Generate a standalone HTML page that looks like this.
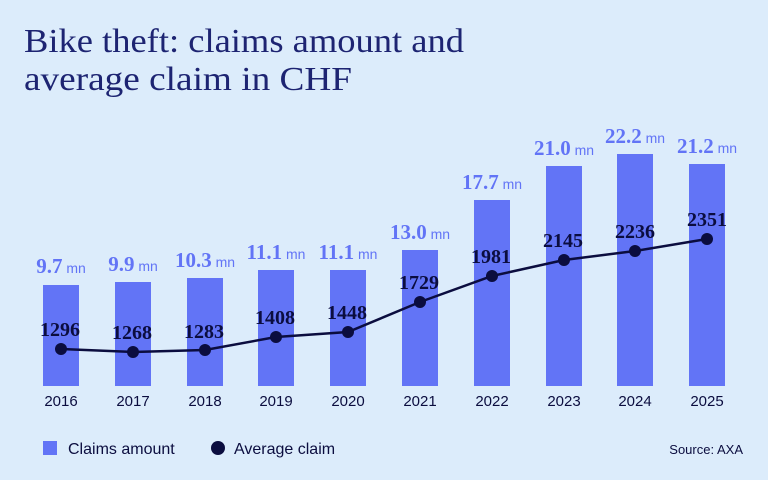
<!DOCTYPE html>
<html><head><style>
body{margin:0;background:#dcecfb;}
svg{display:block}
</style></head><body>
<svg width="768" height="480" xmlns="http://www.w3.org/2000/svg">
<rect width="768" height="480" fill="#dcecfb"/>
<text x="24" y="52" font-family="Liberation Serif,serif" font-size="34" fill="#1d2472" textLength="440" lengthAdjust="spacingAndGlyphs">Bike theft: claims amount and</text>
<text x="24" y="90" font-family="Liberation Serif,serif" font-size="34" fill="#1d2472" textLength="328" lengthAdjust="spacingAndGlyphs">average claim in CHF</text>
<g fill="#6274f6">
<rect x="43" y="285" width="36" height="101"/>
<rect x="115" y="282" width="36" height="104"/>
<rect x="187" y="278" width="36" height="108"/>
<rect x="258" y="270" width="36" height="116"/>
<rect x="330" y="270" width="36" height="116"/>
<rect x="402" y="250" width="36" height="136"/>
<rect x="474" y="200" width="36" height="186"/>
<rect x="546" y="166" width="36" height="220"/>
<rect x="617" y="154" width="36" height="232"/>
<rect x="689" y="164" width="36" height="222"/>
</g>
<g font-family="Liberation Serif,serif" font-weight="bold" font-size="21" fill="#6274f6" text-anchor="middle">
<text x="61" y="273">9.7<tspan font-family="Liberation Sans,sans-serif" font-weight="normal" font-size="14"> mn</tspan></text>
<text x="133" y="271">9.9<tspan font-family="Liberation Sans,sans-serif" font-weight="normal" font-size="14"> mn</tspan></text>
<text x="205" y="267">10.3<tspan font-family="Liberation Sans,sans-serif" font-weight="normal" font-size="14"> mn</tspan></text>
<text x="276" y="259">11.1<tspan font-family="Liberation Sans,sans-serif" font-weight="normal" font-size="14"> mn</tspan></text>
<text x="348" y="259">11.1<tspan font-family="Liberation Sans,sans-serif" font-weight="normal" font-size="14"> mn</tspan></text>
<text x="420" y="239">13.0<tspan font-family="Liberation Sans,sans-serif" font-weight="normal" font-size="14"> mn</tspan></text>
<text x="492" y="189">17.7<tspan font-family="Liberation Sans,sans-serif" font-weight="normal" font-size="14"> mn</tspan></text>
<text x="564" y="155">21.0<tspan font-family="Liberation Sans,sans-serif" font-weight="normal" font-size="14"> mn</tspan></text>
<text x="635" y="143">22.2<tspan font-family="Liberation Sans,sans-serif" font-weight="normal" font-size="14"> mn</tspan></text>
<text x="707" y="153">21.2<tspan font-family="Liberation Sans,sans-serif" font-weight="normal" font-size="14"> mn</tspan></text>
</g>
<polyline fill="none" stroke="#0b0d3f" stroke-width="2.5" points="61,349 133,352 205,350 276,337 348,332 420,302 492,276 564,260 635,251 707,239"/>
<g fill="#0b0d3f">
<circle cx="61" cy="349" r="6"/><circle cx="133" cy="352" r="6"/><circle cx="205" cy="350" r="6"/><circle cx="276" cy="337" r="6"/><circle cx="348" cy="332" r="6"/><circle cx="420" cy="302" r="6"/><circle cx="492" cy="276" r="6"/><circle cx="564" cy="260" r="6"/><circle cx="635" cy="251" r="6"/><circle cx="707" cy="239" r="6"/>
</g>
<g font-family="Liberation Serif,serif" font-weight="bold" font-size="20" fill="#0b0d3f" text-anchor="middle">
<text x="60" y="336">1296</text><text x="132" y="339">1268</text><text x="204" y="338">1283</text><text x="275" y="324">1408</text><text x="347" y="319">1448</text><text x="419" y="289">1729</text><text x="491" y="263">1981</text><text x="563" y="247">2145</text><text x="635" y="238">2236</text><text x="707" y="226">2351</text>
</g>
<g font-family="Liberation Sans,sans-serif" font-size="15" fill="#0b0d3f" text-anchor="middle">
<text x="61" y="406">2016</text><text x="133" y="406">2017</text><text x="205" y="406">2018</text><text x="276" y="406">2019</text><text x="348" y="406">2020</text><text x="420" y="406">2021</text><text x="492" y="406">2022</text><text x="564" y="406">2023</text><text x="635" y="406">2024</text><text x="707" y="406">2025</text>
</g>
<rect x="43" y="441" width="14" height="14" fill="#6274f6"/>
<text x="68" y="454" font-family="Liberation Sans,sans-serif" font-size="16" fill="#0b0d3f">Claims amount</text>
<circle cx="218" cy="448" r="7" fill="#0b0d3f"/>
<text x="234" y="454" font-family="Liberation Sans,sans-serif" font-size="16" fill="#0b0d3f">Average claim</text>
<text x="743" y="454" font-family="Liberation Sans,sans-serif" font-size="13" fill="#0b0d3f" text-anchor="end">Source: AXA</text>
</svg>
</body></html>
